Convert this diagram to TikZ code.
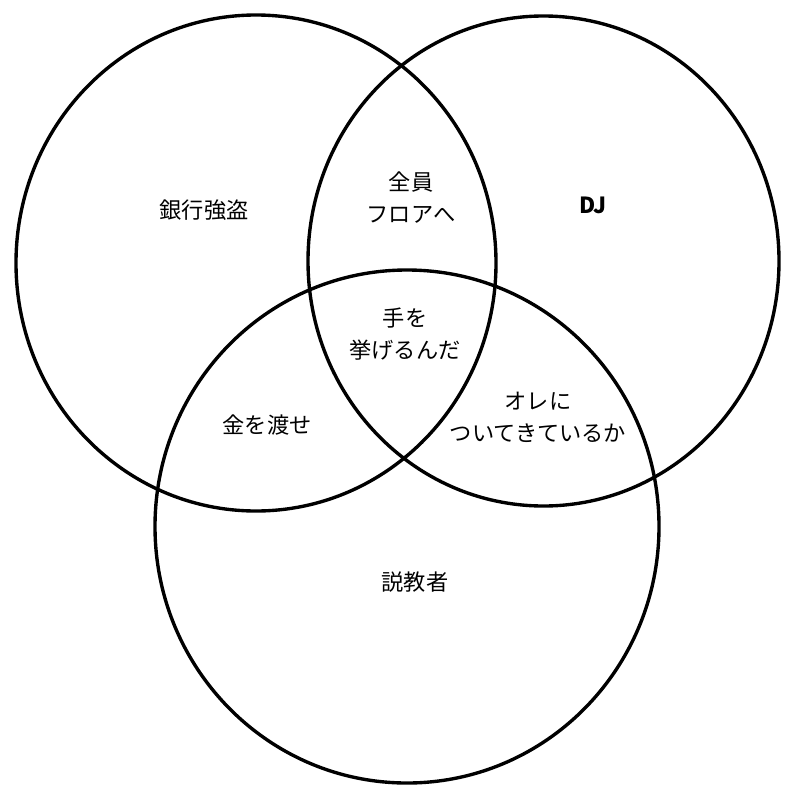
\documentclass[tikz,border=0pt]{standalone}
\usepackage{fontspec}
\setmainfont{Noto Sans CJK JP}
\begin{document}
\begin{tikzpicture}[x=0.025cm, y=-0.025cm,
    ring/.style={line width=2.4pt},
    lbl/.style={align=center, font=\fontsize{15.8}{22.8}\selectfont, inner sep=0pt}]
    \useasboundingbox (0,0) rectangle (800,795);
    % Rings
    \draw[ring] (256,263) ellipse [x radius=240, y radius=248];
    \draw[ring] (543.5,261) ellipse [x radius=235.5, y radius=245];
    \draw[ring] (407,526.5) ellipse [x radius=252, y radius=256.5];
    % Single sets
    \node[lbl] (robber) at (204,210) {銀行強盗};
    \node[lbl, font=\fontsize{15.8}{22.8}\selectfont\bfseries] (dj) at (593,205) {DJ};
    \node[lbl] (preacher) at (415,582) {説教者};
    % Overlaps
    \node[lbl] (floor) at (411,198) {全員\\フロアへ};
    \node[lbl] (money) at (267,425) {金を渡せ};
    \node[lbl] (follow) at (538,417) {オレに\\ついてきているか};
    % Centre
    \node[lbl] (hands) at (405,334) {手を\\挙げるんだ};
\end{tikzpicture}
\end{document}
